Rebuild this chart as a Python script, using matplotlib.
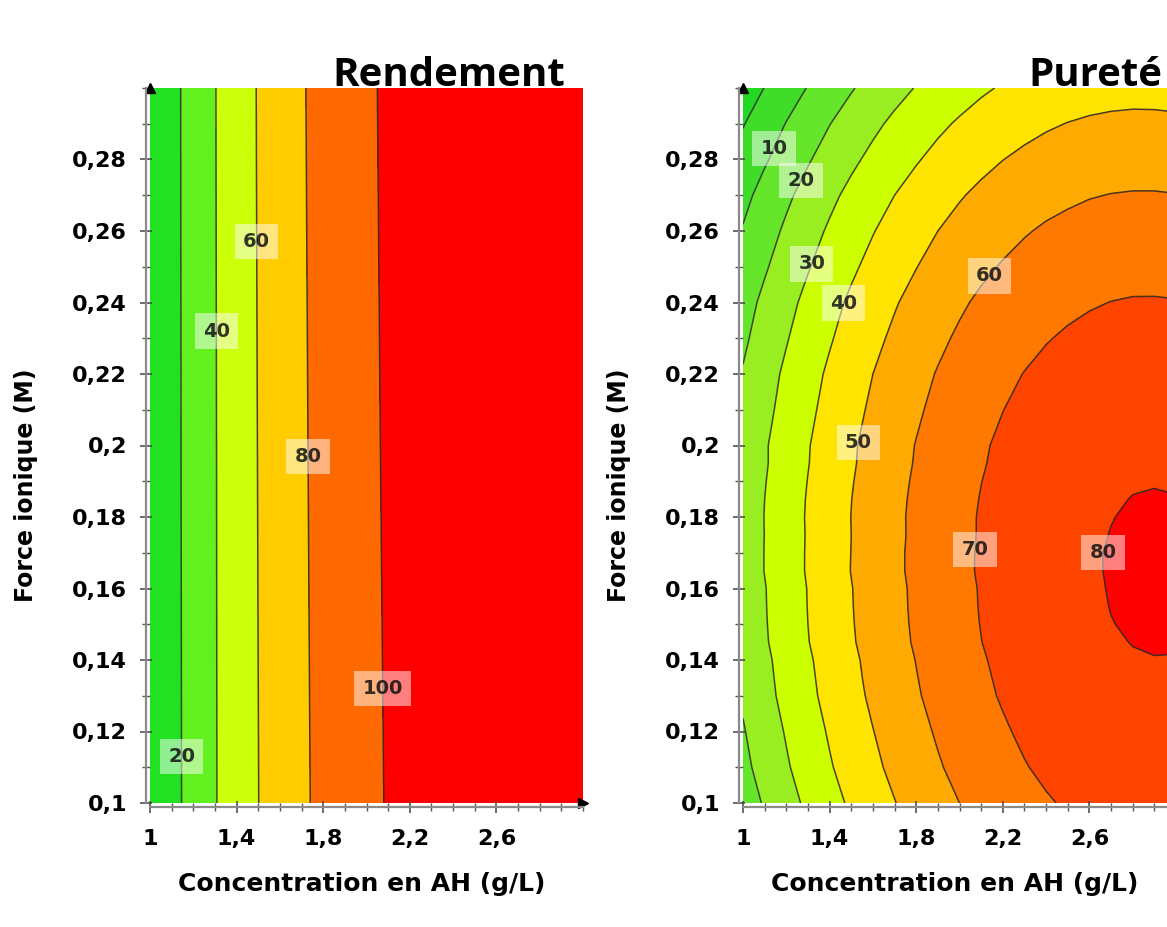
import matplotlib
matplotlib.use('Agg')
import matplotlib.pyplot as plt
from matplotlib.ticker import FuncFormatter, MultipleLocator

# Concentration en AH (g/L), common x grid of both maps
conc = [1.0, 1.1, 1.2, 1.3, 1.4, 1.5, 1.6, 1.7, 1.8, 1.9, 2.0,
        2.1, 2.2, 2.3, 2.4, 2.5, 2.6, 2.7, 2.8, 2.9, 3.0]

rend_force = [0.10, 0.20, 0.30]
rendement = [
    [2.0, 14.5, 26.5, 39.0, 50.0, 59.8, 69.0, 77.0, 84.5, 90.5, 96.0,
     101.0, 105.0, 108.5, 111.5, 114.0, 116.0, 117.5, 118.5, 119.2, 119.6],
    [2.2, 14.8, 26.8, 39.2, 50.2, 60.4, 69.5, 77.8, 85.2, 91.2, 96.8,
     101.8, 105.8, 109.2, 112.2, 114.8, 116.8, 118.0, 118.9, 119.4, 119.7],
    [2.5, 15.0, 27.0, 39.5, 50.5, 61.0, 70.0, 78.5, 86.0, 92.0, 97.5,
     102.5, 106.5, 110.0, 113.0, 115.5, 117.5, 118.5, 119.2, 119.6, 119.8],
]

pur_force = [0.10, 0.11, 0.12, 0.13, 0.135, 0.14, 0.145, 0.15, 0.155, 0.16, 0.165,
             0.17, 0.175, 0.18, 0.185, 0.19, 0.195, 0.20, 0.21, 0.22, 0.23,
             0.24, 0.25, 0.26, 0.27, 0.28, 0.29, 0.30]
purete = [
    [15.0, 20.9, 26.5, 31.8, 36.7, 41.4, 45.7, 49.7, 53.5, 56.9, 60.0, 62.8, 65.2, 67.4, 69.3, 70.8, 72.1, 73.0, 73.6, 73.9, 73.9],
    [17.6, 23.5, 29.0, 34.3, 39.2, 43.8, 48.1, 52.1, 55.8, 59.2, 62.3, 65.0, 67.5, 69.6, 71.4, 73.0, 74.2, 75.1, 75.7, 75.9, 75.9],
    [19.3, 25.2, 30.7, 35.9, 40.9, 45.5, 49.8, 53.8, 57.5, 60.9, 63.9, 66.7, 69.1, 71.3, 73.1, 74.6, 75.8, 76.7, 77.3, 77.6, 77.6],
    [21.2, 27.1, 32.6, 37.8, 42.7, 47.3, 51.5, 55.5, 59.2, 62.5, 65.6, 68.3, 70.7, 72.8, 74.6, 76.1, 77.3, 78.1, 78.7, 79.0, 78.9],
    [21.8, 27.6, 33.1, 38.3, 43.2, 47.8, 52.1, 56.1, 59.7, 63.1, 66.1, 68.8, 71.2, 73.4, 75.2, 76.6, 77.8, 78.7, 79.2, 79.5, 79.4],
    [22.2, 28.1, 33.6, 38.8, 43.7, 48.3, 52.5, 56.5, 60.2, 63.5, 66.6, 69.3, 71.7, 73.8, 75.6, 77.1, 78.3, 79.1, 79.7, 79.9, 79.9],
    [23.2, 29.0, 34.5, 39.7, 44.5, 49.1, 53.3, 57.3, 60.9, 64.2, 67.2, 69.9, 72.3, 74.4, 76.1, 77.6, 78.7, 79.6, 80.1, 80.3, 80.2],
    [23.5, 29.3, 34.8, 40.0, 44.8, 49.4, 53.6, 57.6, 61.2, 64.5, 67.5, 70.2, 72.6, 74.7, 76.4, 77.9, 79.0, 79.9, 80.4, 80.6, 80.5],
    [23.7, 29.5, 35.0, 40.2, 45.0, 49.6, 53.8, 57.8, 61.4, 64.7, 67.7, 70.4, 72.8, 74.9, 76.6, 78.1, 79.2, 80.1, 80.6, 80.8, 80.7],
    [23.8, 29.6, 35.1, 40.3, 45.2, 49.7, 54.0, 57.9, 61.5, 64.8, 67.8, 70.5, 72.9, 75.0, 76.8, 78.2, 79.4, 80.2, 80.7, 81.0, 80.9],
    [24.5, 30.2, 35.7, 40.8, 45.7, 50.2, 54.4, 58.3, 61.9, 65.2, 68.2, 70.8, 73.2, 75.2, 77.0, 78.4, 79.5, 80.3, 80.8, 81.0, 80.9],
    [24.4, 30.2, 35.6, 40.8, 45.6, 50.1, 54.4, 58.3, 61.9, 65.1, 68.1, 70.8, 73.1, 75.2, 76.9, 78.3, 79.5, 80.3, 80.8, 81.0, 80.8],
    [24.4, 30.1, 35.5, 40.7, 45.5, 50.0, 54.2, 58.1, 61.7, 65.0, 68.0, 70.6, 73.0, 75.0, 76.8, 78.2, 79.3, 80.1, 80.6, 80.8, 80.7],
    [24.4, 30.2, 35.7, 40.8, 45.6, 50.1, 54.3, 58.2, 61.7, 65.0, 67.9, 70.6, 72.9, 74.9, 76.6, 78.0, 79.1, 79.9, 80.4, 80.6, 80.4],
    [24.3, 30.0, 35.5, 40.6, 45.4, 49.9, 54.1, 57.9, 61.5, 64.8, 67.7, 70.3, 72.7, 74.7, 76.4, 77.8, 78.9, 79.6, 80.1, 80.3, 80.1],
    [23.9, 29.6, 35.0, 40.2, 45.0, 49.5, 53.6, 57.5, 61.1, 64.3, 67.3, 69.9, 72.2, 74.3, 76.0, 77.4, 78.4, 79.2, 79.7, 79.8, 79.7],
    [23.4, 29.1, 34.5, 39.7, 44.5, 49.0, 53.1, 57.0, 60.6, 63.8, 66.8, 69.4, 71.7, 73.8, 75.5, 76.9, 77.9, 78.7, 79.2, 79.3, 79.2],
    [23.4, 29.1, 34.5, 39.5, 44.3, 48.8, 52.9, 56.8, 60.3, 63.5, 66.4, 69.1, 71.3, 73.3, 75.0, 76.4, 77.4, 78.2, 78.6, 78.7, 78.5],
    [21.9, 27.6, 33.0, 38.1, 42.8, 47.3, 51.5, 55.3, 58.8, 62.1, 65.0, 67.6, 69.9, 71.8, 73.5, 74.9, 75.9, 76.7, 77.1, 77.2, 77.1],
    [20.6, 26.3, 31.6, 36.7, 41.4, 45.9, 50.0, 53.8, 57.3, 60.5, 63.4, 66.0, 68.2, 70.2, 71.8, 73.1, 74.2, 74.9, 75.3, 75.4, 75.2],
    [18.4, 24.0, 29.4, 34.5, 39.2, 43.6, 47.8, 51.6, 55.1, 58.3, 61.2, 63.7, 66.0, 67.9, 69.6, 70.9, 71.9, 72.7, 73.1, 73.1, 72.9],
    [16.4, 22.0, 27.3, 32.3, 37.1, 41.5, 45.6, 49.3, 52.8, 56.0, 58.8, 61.4, 63.6, 65.5, 67.1, 68.4, 69.4, 70.1, 70.5, 70.5, 70.3],
    [13.4, 19.0, 24.4, 29.4, 34.1, 38.5, 42.6, 46.4, 49.8, 53.0, 55.9, 58.4, 60.6, 62.5, 64.2, 65.5, 66.5, 67.1, 67.5, 67.6, 67.3],
    [10.6, 16.2, 21.5, 26.5, 31.2, 35.6, 39.6, 43.4, 46.8, 50.0, 52.8, 55.3, 57.5, 59.4, 61.0, 62.2, 63.2, 63.8, 64.2, 64.2, 63.9],
    [7.5, 13.1, 18.3, 23.3, 27.9, 32.3, 36.3, 40.0, 43.4, 46.5, 49.3, 51.8, 54.0, 55.8, 57.4, 58.6, 59.6, 60.2, 60.5, 60.5, 60.2],
    [3.4, 9.0, 14.2, 19.2, 23.8, 28.2, 32.2, 35.9, 39.3, 42.4, 45.2, 47.7, 49.9, 51.7, 53.3, 54.5, 55.5, 56.1, 56.4, 56.4, 56.1],
    [-0.5, 5.0, 10.3, 15.2, 19.8, 24.1, 28.1, 31.8, 35.2, 38.3, 41.0, 43.5, 45.6, 47.5, 49.0, 50.2, 51.1, 51.7, 52.0, 51.9, 51.6],
    [-5.3, 0.2, 5.5, 10.4, 15.0, 19.3, 23.3, 27.0, 30.4, 33.4, 36.2, 38.7, 40.8, 42.6, 44.1, 45.4, 46.3, 46.8, 47.1, 47.1, 46.7],
]

rend_levels = [0, 20, 40, 60, 80, 100, 130]
rend_lines = [20, 40, 60, 80, 100]
rend_colors = ['#22e022', '#62f01e', '#ccff0a', '#ffcc00', '#ff6a00', '#ff0000']

pur_levels = [-10, 0, 10, 20, 30, 40, 50, 60, 70, 80, 90]
pur_extra_line = [0]
pur_lines = [10, 20, 30, 40, 50, 60, 70, 80]
pur_colors = ['#22d822', '#3fdc2a', '#66e62a', '#99ee22', '#ccff00',
              '#ffe400', '#ffaa00', '#ff7800', '#ff4400', '#ff0000']

x_ticks = [1.0, 1.4, 1.8, 2.2, 2.6]
y_ticks = [0.10, 0.12, 0.14, 0.16, 0.18, 0.20, 0.22, 0.24, 0.26, 0.28]

# where the contour labels sit
rend_label_pos = [(1.143, 0.113), (1.309, 0.232), (1.49, 0.257),
                  (1.725, 0.197), (2.076, 0.132)]
pur_label_pos = [(1.148, 0.283), (1.273, 0.274), (1.309, 0.251), (1.457, 0.240),
                 (1.517, 0.201), (2.127, 0.248), (2.039, 0.171), (2.635, 0.170)]

plt.rcParams['font.family'] = 'DejaVu Sans'
plt.rcParams['font.weight'] = 'bold'


def comma(v, pos):
    return ('%g' % v).replace('.', ',')


def style_axes(ax):
    ax.set_xlim(1.0, 3.0)
    ax.set_ylim(0.10, 0.30)
    ax.set_xticks(x_ticks)
    ax.set_yticks(y_ticks)
    ax.xaxis.set_minor_locator(MultipleLocator(0.1))
    ax.yaxis.set_minor_locator(MultipleLocator(0.01))
    ax.xaxis.set_major_formatter(FuncFormatter(comma))
    ax.yaxis.set_major_formatter(FuncFormatter(comma))
    for s in ['top', 'right']:
        ax.spines[s].set_visible(False)
    for s in ['left', 'bottom']:
        ax.spines[s].set_color('#8a8a8a')
        ax.spines[s].set_linewidth(1.6)
        ax.spines[s].set_position(('outward', 3))
    ax.tick_params(which='major', direction='inout', length=9, width=1.1,
                   color='#444444', labelsize=16)
    ax.tick_params(which='minor', direction='inout', length=6, width=1.0,
                   color='#555555')
    ax.tick_params(axis='x', pad=11)
    ax.tick_params(axis='y', pad=9)
    ax.set_xlabel('Concentration en AH (g/L)', fontsize=18, fontweight='bold')
    ax.set_ylabel('Force ionique (M)', fontsize=17, fontweight='bold')
    ax.xaxis.set_label_coords(0.49, -0.097)
    ax.yaxis.set_label_coords(-0.258, 0.445)
    # arrow heads at the end of the axes
    ax.plot([1.0], [0.0], marker='>', color='k', markersize=7,
            transform=ax.transAxes, clip_on=False)
    ax.plot([0.0], [1.0], marker='^', color='k', markersize=7,
            transform=ax.transAxes, clip_on=False)


def label_contours(ax, cs, positions):
    texts = ax.clabel(cs, inline=False, fmt='%d', fontsize=14,
                      manual=positions, colors='#111111')
    for t in texts:
        t.set_rotation(0)
        t.set_fontweight('bold')
        t.set_bbox(dict(boxstyle='square,pad=0.42', fc='white', ec='none', alpha=0.5))


fig = plt.figure(figsize=(11.67, 9.27), dpi=100)
ax1 = fig.add_axes([150 / 1167, 1 - 803 / 927, 433 / 1167, 715 / 927])
ax2 = fig.add_axes([743 / 1167, 1 - 803 / 927, 433 / 1167, 715 / 927])

line_style = dict(colors='#2a2a2a', linewidths=1.1, alpha=0.85)

# Rendement
ax1.contourf(conc, rend_force, rendement, levels=rend_levels, colors=rend_colors)
cs1 = ax1.contour(conc, rend_force, rendement, levels=rend_lines, **line_style)
label_contours(ax1, cs1, rend_label_pos)
style_axes(ax1)

# Pureté
ax2.contourf(conc, pur_force, purete, levels=pur_levels, colors=pur_colors)
ax2.contour(conc, pur_force, purete, levels=pur_extra_line, **line_style)
cs2 = ax2.contour(conc, pur_force, purete, levels=pur_lines, **line_style)
label_contours(ax2, cs2, pur_label_pos)
style_axes(ax2)

fig.text(565 / 1167, 1 - 86 / 927, 'Rendement', ha='right', va='baseline',
         fontsize=29, fontweight='bold', family='Open Sans')
fig.text(1162 / 1167, 1 - 86 / 927, 'Pureté', ha='right', va='baseline',
         fontsize=29, fontweight='bold', family='Open Sans')

fig.savefig('out.png', dpi=100)
